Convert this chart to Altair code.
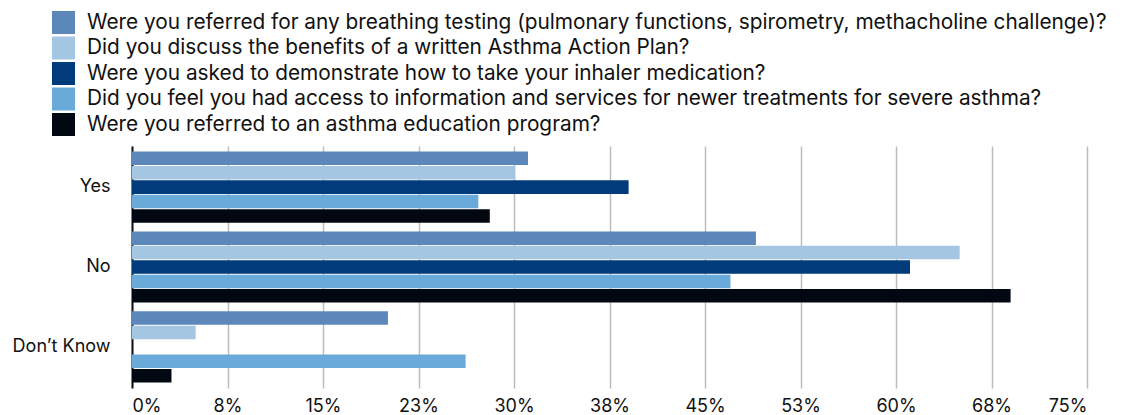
import altair as alt
import pandas as pd

categories = ["Yes", "No", "Don’t Know"]
series = [
    "Were you referred for any breathing testing (pulmonary functions, spirometry, methacholine challenge)?",
    "Did you discuss the benefits of a written Asthma Action Plan?",
    "Were you asked to demonstrate how to take your inhaler medication?",
    "Did you feel you had access to information and services for newer treatments for severe asthma?",
    "Were you referred to an asthma education program?",
]
breathing_testing = [31.1, 49.0, 20.1]
action_plan = [30.1, 65.0, 5.0]
inhaler_demo = [39.0, 61.1, 0.0]
newer_treatments = [27.2, 47.0, 26.2]
education_program = [28.1, 69.0, 3.1]
colors = ["#5B87BB", "#A4C6E3", "#003B7B", "#6AAADB", "#010812"]
tick_values = [0, 7.5, 15, 22.5, 30, 37.5, 45, 52.5, 60, 67.5, 75]

all_values = [breathing_testing, action_plan, inhaler_demo, newer_treatments, education_program]
rows = []
for s, vals in zip(series, all_values):
    for c, v in zip(categories, vals):
        rows.append({"category": c, "series": s, "value": v})
df = pd.DataFrame(rows)

FONT = "Inter"

chart = alt.Chart(df).mark_bar().encode(
    x=alt.X(
        "value:Q",
        scale=alt.Scale(domain=[0, 75], nice=False, zero=True),
        axis=alt.Axis(
            values=tick_values,
            labelExpr="format(datum.value, '.0f') + '%'",
            title=None,
            grid=True,
            gridColor="#BDBDBD",
            gridWidth=1.5,
            domain=False,
            ticks=False,
            labelFontSize=18,
            labelFontWeight="normal",
            labelPadding=9,
            labelColor="#111111",
            labelFont=FONT,
        ),
    ),
    y=alt.Y(
        "category:N",
        sort=categories,
        scale=alt.Scale(paddingInner=0.11, paddingOuter=0.07),
        axis=alt.Axis(
            title=None,
            domainColor="#111111",
            domainWidth=2,
            ticks=False,
            grid=False,
            labelPadding=22,
            labelFontSize=18,
            labelColor="#111111",
            labelFont=FONT,
        ),
    ),
    yOffset=alt.YOffset("series:N", sort=series, scale=alt.Scale(paddingInner=0.06)),
    color=alt.Color(
        "series:N",
        sort=series,
        scale=alt.Scale(domain=series, range=colors),
        legend=alt.Legend(
            title=None,
            orient="none",
            legendX=-80,
            legendY=-135,
            direction="vertical",
            symbolType="square",
            symbolSize=529,
            symbolStrokeWidth=0,
            symbolOpacity=1,
            labelFontSize=20.8,
            labelFont=FONT,
            labelColor="#111111",
            labelOffset=12,
            labelLimit=0,
            rowPadding=2.5,
        ),
    ),
).properties(
    width=955,
    height=242,
    autosize=alt.AutoSizeParams(type="none"),
    padding={"left": 124, "top": 138, "right": 31, "bottom": 30},
).configure(font=FONT).configure_view(stroke=None)

chart.save("out.html", embed_options={"renderer": "svg", "actions": False})
